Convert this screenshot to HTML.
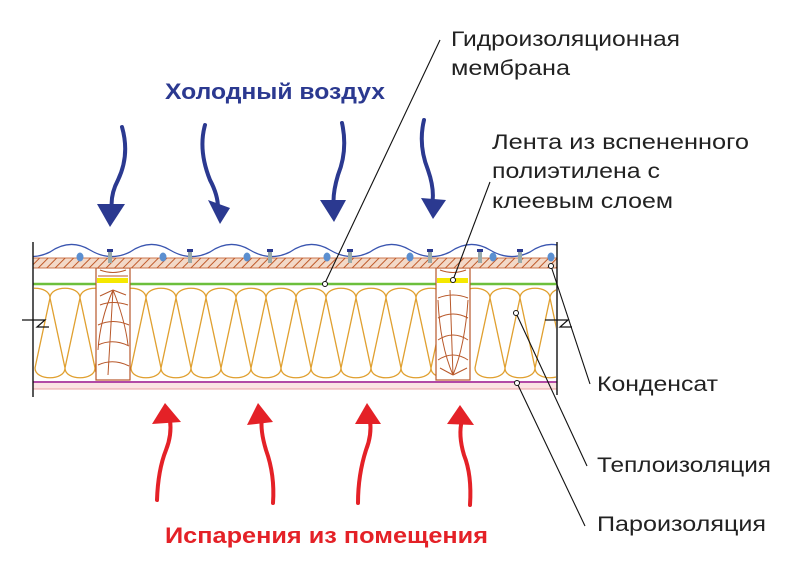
<!DOCTYPE html>
<html><head><meta charset="utf-8"><style>
html,body{margin:0;padding:0;background:#fff;width:800px;height:568px;overflow:hidden}
svg{display:block}
text{font-family:"Liberation Sans",Arial,sans-serif}
</style></head><body>
<svg id="s" width="800" height="568" viewBox="0 0 800 568" xmlns="http://www.w3.org/2000/svg">
<defs>
<pattern id="hatch" width="6" height="6" patternUnits="userSpaceOnUse" patternTransform="rotate(45)">
<rect width="6" height="6" fill="#f3d9c8"/><line x1="0" y1="0" x2="0" y2="6" stroke="#c05a2a" stroke-width="2"/>
</pattern>
<clipPath id="cw"><rect x="33" y="230" width="524" height="40"/></clipPath>
</defs>
<rect x="33" y="383" width="524" height="6" fill="#fbe3e3"/>
<line x1="33" y1="389" x2="557" y2="389" stroke="#e9a0a0" stroke-width="1"/>
<line x1="33" y1="382" x2="557" y2="382" stroke="#b24aa6" stroke-width="2"/>
<g id="ins" fill="none" stroke="#e0a030" stroke-width="1.3"></g>
<line x1="33" y1="284" x2="557" y2="284" stroke="#6cbf3c" stroke-width="2.5"/>
<g stroke="#b8582a" stroke-width="1.2" fill="#fff">
<rect x="96" y="268" width="34" height="112"/>
<rect x="436" y="268" width="34" height="112"/>
</g>
<g stroke="#b8582a" stroke-width="1" fill="none">
<path d="M113 290 Q100 320 98 350 M113 290 Q125 320 128 345 M113 290 L108 375 M100 305 Q113 300 128 305 M98 325 Q113 318 129 325 M98 345 Q113 338 129 346 M98 365 Q113 358 129 366 M113 290 L100 296 M113 290 L126 295"/>
<path d="M453 375 Q440 345 438 300 M453 375 Q465 345 468 300 M453 375 L450 290 M438 360 Q453 350 468 360 M438 340 Q453 330 468 340 M438 318 Q453 310 468 318 M438 298 Q453 292 468 298 M453 375 L440 368 M453 375 L467 368"/>
<path d="M100 270 Q113 275 126 270 M98 276 L128 276 M440 270 Q453 275 466 270"/>
</g>
<rect x="97" y="278" width="31" height="5" fill="#f5e800"/>
<rect x="437" y="278" width="31" height="5" fill="#f5e800"/>
<rect x="33" y="258" width="524" height="10" fill="url(#hatch)" stroke="#c05a2a" stroke-width="0.8"/>
<path id="wave" fill="none" stroke="#3a55b0" stroke-width="1.3" clip-path="url(#cw)"/>
<g id="drops"></g>
<line x1="33" y1="242" x2="33" y2="397" stroke="#111" stroke-width="1.4"/>
<line x1="557" y1="242" x2="557" y2="395" stroke="#111" stroke-width="1.4"/>
<path d="M22 320 L45 320 L37 327 L49 327" fill="none" stroke="#111" stroke-width="1.2"/>
<path d="M545 320 L568 320 L560 327 L572 327" fill="none" stroke="#111" stroke-width="1.2"/>
<g stroke="#111" stroke-width="1.1" fill="none">
<line x1="440" y1="40" x2="325" y2="283"/>
<line x1="490" y1="182" x2="453" y2="280"/>
<line x1="551" y1="266" x2="590" y2="384"/>
<line x1="516" y1="313" x2="587" y2="466"/>
<line x1="517" y1="383" x2="585" y2="526"/>
</g>
<g fill="#fff" stroke="#111" stroke-width="1">
<circle cx="325" cy="284" r="2.5"/><circle cx="453" cy="280" r="2.5"/><circle cx="551" cy="266" r="2.5"/><circle cx="516" cy="313" r="2.5"/><circle cx="517" cy="383" r="2.5"/>
</g>
<g stroke="#2b3990" stroke-width="4" fill="none" stroke-linecap="round">
<path d="M122 127 Q130 155 118 180 Q110 195 112 210"/>
<path d="M205 125 Q198 150 210 180 Q218 195 218 208"/>
<path d="M342 123 Q348 150 338 175 Q332 195 334 208"/>
<path d="M424 120 Q418 145 428 170 Q435 190 432 205"/>
</g>
<g fill="#2b3990">
<polygon points="97,204 125,204 110,227"/>
<polygon points="208,200 230,208 220,224"/>
<polygon points="320,200 346,200 334,222"/>
<polygon points="421,198 446,200 433,219"/>
</g>
<g stroke="#e42127" stroke-width="4" fill="none" stroke-linecap="round">
<path d="M157 500 Q158 470 166 450 Q172 435 170 420"/>
<path d="M273 503 Q275 475 266 450 Q260 430 262 418"/>
<path d="M358 503 Q358 475 366 450 Q372 435 370 420"/>
<path d="M470 505 Q472 475 464 455 Q458 435 462 420"/>
</g>
<g fill="#e42127">
<polygon points="165,403 152,424 181,422"/>
<polygon points="258,403 247,425 273,422"/>
<polygon points="367,403 355,424 381,424"/>
<polygon points="460,405 447,424 474,425"/>
</g>
<text x="165" y="99" font-size="22" font-weight="bold" fill="#2b3990" textLength="220" lengthAdjust="spacingAndGlyphs">Холодный воздух</text>
<text x="165" y="543" font-size="22" font-weight="bold" fill="#e42127" textLength="323" lengthAdjust="spacingAndGlyphs">Испарения из помещения</text>
<g font-size="21" fill="#222">
<text x="451" y="46" textLength="229" lengthAdjust="spacingAndGlyphs">Гидроизоляционная</text>
<text x="451" y="75" textLength="119" lengthAdjust="spacingAndGlyphs">мембрана</text>
<text x="492" y="149" textLength="257" lengthAdjust="spacingAndGlyphs">Лента из вспененного</text>
<text x="492" y="178" textLength="168" lengthAdjust="spacingAndGlyphs">полиэтилена с</text>
<text x="492" y="208" textLength="181" lengthAdjust="spacingAndGlyphs">клеевым слоем</text>
<text x="597" y="391" textLength="121" lengthAdjust="spacingAndGlyphs">Конденсат</text>
<text x="597" y="472" textLength="174" lengthAdjust="spacingAndGlyphs">Теплоизоляция</text>
<text x="597" y="531" textLength="169" lengthAdjust="spacingAndGlyphs">Пароизоляция</text>
</g>
</svg>
<script>
(function(){
var ns="http://www.w3.org/2000/svg";
var g=document.getElementById('ins');
var clip=document.createElementNS(ns,'clipPath');clip.id='c1';
[[34,96],[130,436],[470,556]].forEach(function(r){var rc=document.createElementNS(ns,'rect');rc.setAttribute('x',r[0]);rc.setAttribute('y',285);rc.setAttribute('width',r[1]-r[0]);rc.setAttribute('height',96);clip.appendChild(rc);});
document.getElementById('s').insertBefore(clip,g);
g.setAttribute('clip-path','url(#c1)');
function segs(x0,x1){
 var w=30,t=298,b=368,d="M"+x0+" "+t;
 for(var x=x0;x<x1;x+=w){
  var R=x+w;
  d+=" C"+x+" "+(t-13)+" "+R+" "+(t-13)+" "+R+" "+t;
  d+=" L"+(R-15)+" "+b;
  d+=" C"+(R-15)+" "+(b+13)+" "+(R+15)+" "+(b+13)+" "+(R+15)+" "+b;
  d+=" L"+R+" "+t;
 }
 var p=document.createElementNS(ns,'path');p.setAttribute('d',d);g.appendChild(p);
}
segs(20,100);segs(116,440);segs(460,570);
var d="M10 250";
for(var x=10;x<580;x+=80){d+=" Q"+(x+20)+" 262 "+(x+40)+" 252 Q"+(x+60)+" 238 "+(x+80)+" 250";}
document.getElementById('wave').setAttribute('d',d);
var dr=document.getElementById('drops');
[80,163,247,327,410,493,551].forEach(function(x){var e=document.createElementNS(ns,'ellipse');e.setAttribute('cx',x);e.setAttribute('cy',257);e.setAttribute('rx',3.5);e.setAttribute('ry',4.5);e.setAttribute('fill','#5b8fd0');dr.appendChild(e);});
[110,190,270,350,430,480,520].forEach(function(x){var r=document.createElementNS(ns,'rect');r.setAttribute('x',x-2);r.setAttribute('y',251);r.setAttribute('width',4);r.setAttribute('height',12);r.setAttribute('fill','#9aa');dr.appendChild(r);var c=document.createElementNS(ns,'rect');c.setAttribute('x',x-3);c.setAttribute('y',249);c.setAttribute('width',6);c.setAttribute('height',3);c.setAttribute('fill','#2b3990');dr.appendChild(c);});
})();
</script>
</body></html>
